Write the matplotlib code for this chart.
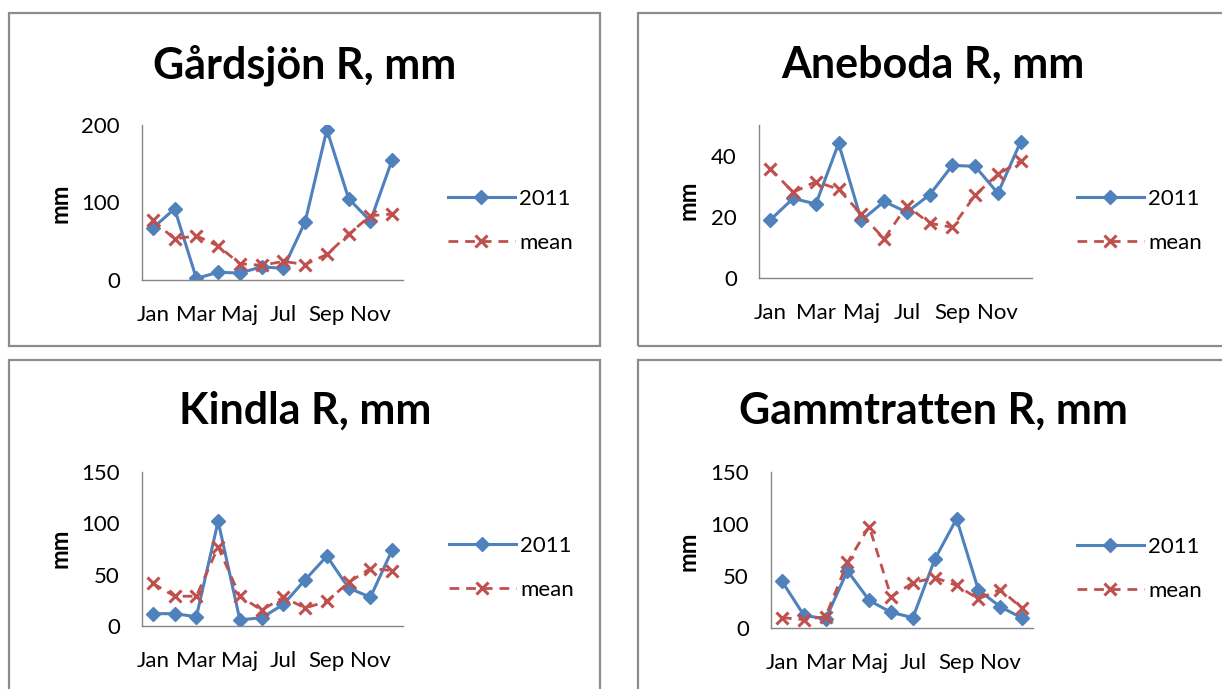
import matplotlib
matplotlib.use("Agg")
import matplotlib.pyplot as plt
from matplotlib.patches import Rectangle

plt.rcParams["font.family"] = ["Lato", "DejaVu Sans"]

# månader (bara varannan etikett visas på x-axeln)
months = ["Jan", "Feb", "Mar", "Apr", "Maj", "Jun", "Jul", "Aug", "Sep", "Okt", "Nov", "Dec"]

gardsjon_2011 = [67, 92, 2, 10, 9, 17, 15, 75, 194, 105, 76, 155]
gardsjon_mean = [77, 53, 57, 44, 21, 19, 24, 20, 33, 59, 83, 85]

aneboda_2011 = [19, 26, 24.2, 44, 18.8, 25, 21.5, 27.2, 36.8, 36.5, 27.7, 44.5]
aneboda_mean = [35.7, 28, 31.5, 29, 20.8, 12.8, 23.6, 17.9, 16.6, 27.1, 33.9, 38.2]

kindla_2011 = [12, 12, 9, 102, 6, 8, 21, 45, 68, 37, 28, 74]
kindla_mean = [41.5, 29, 29, 77, 29, 15.5, 28, 17.5, 24, 42.5, 56, 54]

gammtratten_2011 = [45, 12.5, 8.5, 55, 26.5, 15, 10, 66, 105, 36.5, 20.5, 9.5]
gammtratten_mean = [10, 8, 11, 63, 97.5, 30, 43.5, 48.5, 41, 28, 37, 19]

BLUE = "#4F81BD"
RED = "#C0504D"
AXIS_GRAY = "#868686"
BORDER_GRAY = "#8C8C8C"
FS = 16

W, H = 1222, 689
fig = plt.figure(figsize=(W / 100, H / 100), dpi=100)


def px_rect(x0, y0, x1, y1):
    # pixelkoordinater (origo uppe till vänster) -> figurbråk
    return [x0 / W, 1 - y1 / H, (x1 - x0) / W, (y1 - y0) / H]


def rita_panel(frame, plot, title, title_xy, ylab_xy, leg_xy, v2011, vmean, ymax, yticks):
    fx0, fy0, fx1, fy1 = frame
    fig.patches.append(Rectangle((fx0 / W, 1 - fy1 / H), (fx1 - fx0) / W, (fy1 - fy0) / H,
                                 transform=fig.transFigure, fill=False,
                                 edgecolor=BORDER_GRAY, linewidth=1.6))
    ax = fig.add_axes(px_rect(*plot))
    x = range(len(months))
    ax.plot(x, v2011, color=BLUE, lw=2.2, marker="D", ms=7.5, mec=BLUE, mfc=BLUE, label="2011")
    ax.plot(x, vmean, color=RED, lw=2.0, ls=(0, (3.5, 2.5)), marker="x", ms=8.5, mew=2.2,
            label="mean")
    ax.set_xlim(-0.5, len(months) - 0.5)
    ax.set_ylim(0, ymax)
    ax.set_xticks(list(x)[::2])
    ax.set_xticklabels(months[::2])
    ax.set_yticks(yticks)
    ax.tick_params(length=0, labelsize=FS, pad=16)
    ax.tick_params(axis="x", pad=18)
    for s in ("top", "right"):
        ax.spines[s].set_visible(False)
    for s in ("left", "bottom"):
        ax.spines[s].set_color(AXIS_GRAY)
        ax.spines[s].set_linewidth(1.0)
    fig.text(title_xy[0] / W, 1 - title_xy[1] / H, title, ha="center", va="center",
             fontsize=31, fontweight="bold")
    fig.text(ylab_xy[0] / W, 1 - ylab_xy[1] / H, "mm", ha="center", va="center",
             rotation=90, fontsize=17, fontweight="bold")
    ax.legend(loc="center left", bbox_to_anchor=(leg_xy[0] / W, 1 - leg_xy[1] / H),
              bbox_transform=fig.transFigure, frameon=False, fontsize=FS,
              handlelength=3.0, handletextpad=0.2, labelspacing=1.08,
              borderpad=0, borderaxespad=0)
    return ax


rita_panel((9, 13, 600, 346), (142, 125, 403, 280), "Gårdsjön R, mm", (305, 65), (60, 203),
           (448, 221), gardsjon_2011, gardsjon_mean, 200, [0, 100, 200])
rita_panel((638, 13, 1229, 346), (759, 125, 1032, 278), "Aneboda R, mm", (933, 65), (688, 200),
           (1077, 221), aneboda_2011, aneboda_mean, 50, [0, 20, 40])
rita_panel((9, 360, 600, 693), (142, 472, 403, 626), "Kindla R, mm", (305, 411), (60, 548),
           (449, 568), kindla_2011, kindla_mean, 150, [0, 50, 100, 150])
rita_panel((638, 360, 1229, 693), (771, 472, 1033, 628), "Gammtratten R, mm", (933, 411),
           (688, 551), (1077, 569), gammtratten_2011, gammtratten_mean, 150, [0, 50, 100, 150])

fig.savefig("out.png", dpi=100)
